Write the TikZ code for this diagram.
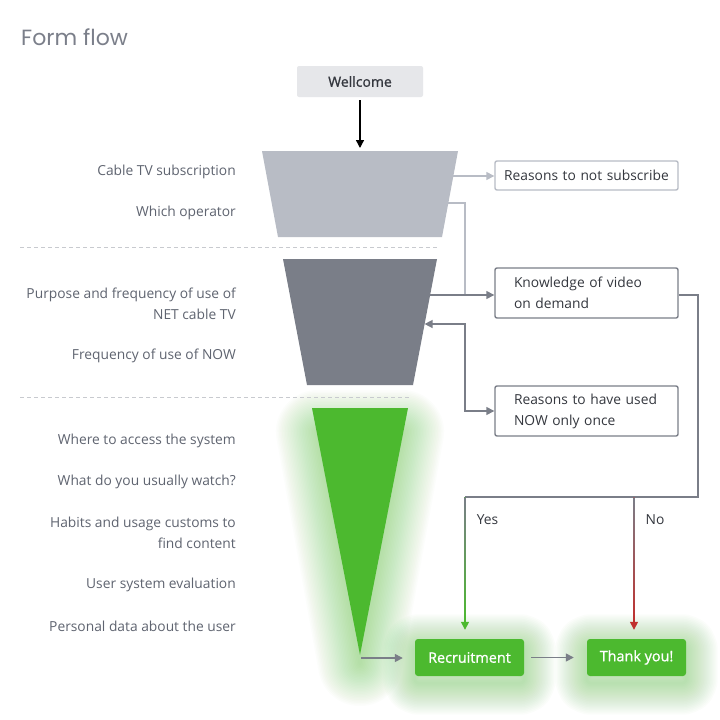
\documentclass[tikz,border=0pt]{standalone}
\usepackage{fontspec}
\setmainfont{Open Sans}
\newfontfamily\titlefont{Poppins}
\newfontface\semibold{Open Sans}[FakeBold=1]
\usetikzlibrary{arrows.meta, positioning, backgrounds, calc}
\definecolor{labelgray}{RGB}{95,100,112}
\definecolor{textdark}{RGB}{52,55,62}
\definecolor{titlegray}{RGB}{123,127,138}
\definecolor{lightfunnel}{RGB}{184,188,197}
\definecolor{darkfunnel}{RGB}{122,126,136}
\definecolor{funnelgreen}{RGB}{76,185,47}
\definecolor{welcomefill}{RGB}{230,231,234}
\definecolor{nored}{RGB}{192,48,46}
\definecolor{dashgray}{RGB}{200,202,207}

\begin{document}
\begin{tikzpicture}[
    x=1pt, y=-1pt,
    >={Triangle[length=8pt, width=8pt]},
    lbl/.style={anchor=east, inner sep=0pt, align=right, text=labelgray, font=\fontsize{13.8}{20.5}\selectfont},
    optbox/.style={draw=darkfunnel, line width=1.4pt, rounded corners=2pt, fill=white, minimum height=50pt, text width=145pt, inner xsep=19pt, inner ysep=0pt, align=left, text=textdark, font=\fontsize{13.8}{21}\selectfont},
    endbox/.style={fill=funnelgreen, rounded corners=3pt, minimum height=37pt, text=white, font=\fontsize{14.4}{16}\selectfont\semibold},
    arrow/.style={->, line width=1.4pt},
    link/.style={line width=1.4pt},
    guide/.style={dashgray, line width=0.8pt, dash pattern=on 4pt off 3pt},
    glow/.style={draw=funnelgreen, line join=round}
]
    \begin{scope}[on background layer]
        \fill[white] (0,0) rectangle (720,720);
    \end{scope}
    \useasboundingbox (0,0) rectangle (720,720);

    % Title and start
    \node[anchor=west, inner sep=0pt, text=titlegray, font=\fontsize{22}{24}\selectfont\titlefont] (title) at (21,37) {Form flow};
    \node[fill=welcomefill, rounded corners=2pt, minimum width=126pt, minimum height=31pt, text=textdark, font=\fontsize{14}{16}\selectfont\semibold] (wellcome) at (360,81.5) {Wellcome};

    % Glow of the last funnel
    \foreach \w in {3,6,...,84}
        \path[glow, opacity=0.017, line width=\w pt] (318,432) -- (402,432) -- (360,664) -- cycle;

    % Funnels
    \fill[lightfunnel] (262,151) -- (458,151) -- (442,237) -- (278,237) -- cycle;
    \fill[darkfunnel] (283,259) -- (437,259) -- (413,385) -- (307,385) -- cycle;
    \fill[funnelgreen] (312,408) -- (408,408) -- (360,655) -- cycle;

    % Section guides
    \draw[guide] (20,247) -- (438,247);
    \draw[guide] (20,397) -- (410,397);

    % Questions
    \node[lbl] (q1) at (236,172) {Cable TV subscription};
    \node[lbl] (q2) at (236,213) {Which operator};
    \node[lbl] (q3) at (236,304) {Purpose and frequency of use of\\NET cable TV};
    \node[lbl] (q4) at (236,356) {Frequency of use of NOW};
    \node[lbl] (q5) at (236,441) {Where to access the system};
    \node[lbl] (q6) at (236,482) {What do you usually watch?};
    \node[lbl] (q7) at (236,533) {Habits and usage customs to\\find content};
    \node[lbl] (q8) at (236,585) {User system evaluation};
    \node[lbl] (q9) at (236,626) {Personal data about the user};

    % Side questions
    \node[optbox, draw=lightfunnel, minimum height=29pt, text width=183pt, inner xsep=0pt, align=center] (notsub) at (586.5,175.5) {Reasons to not subscribe};
    \node[optbox] (know) at (586.5,293) {Knowledge of video\\on demand};
    \node[optbox] (once) at (586.5,411) {Reasons to have used\\NOW only once};

    % Ends
    \node[endbox, minimum width=109pt] (recruit) at (469.5,657.5) {Recruitment};
    \node[endbox, minimum width=99pt] (thanks) at (636.5,657.5) {Thank you!};
    \begin{scope}[on background layer]
        \foreach \w in {3,6,...,63} {
            \path[glow, opacity=0.02, line width=\w pt, rounded corners=4pt] ([yshift=-7pt]recruit.north west) rectangle ([yshift=-7pt]recruit.south east);
            \path[glow, opacity=0.02, line width=\w pt, rounded corners=4pt] ([yshift=-7pt]thanks.north west) rectangle ([yshift=-7pt]thanks.south east);
        }
    \end{scope}

    % Points on the funnels
    \coordinate (f1top) at (360,151);
    \coordinate (f1out) at (453.3,176);
    \coordinate (f1side) at (448.3,203);
    \coordinate (f2out) at (430,295);
    \coordinate (f2in) at (424.6,324);
    \coordinate (f3tip) at (361,658);
    \coordinate (j1) at (465,295);
    \coordinate (j2) at (465,324);
    \coordinate (split) at (698,497);
    \coordinate (yes) at (465,497);
    \coordinate (no) at (634,497);

    % Arrows
    \draw[arrow, shorten <=3pt, shorten >=3pt] (wellcome) -- (f1top);
    \draw[arrow, lightfunnel] (f1out) -- (f1out -| notsub.west);
    \draw[link, lightfunnel] (f1side) -| (j1);
    \draw[arrow, darkfunnel] (f2out) -- (f2out -| know.west);
    \draw[link, darkfunnel, <->] (f2in) -- (j2) |- (once.west);
    \draw[link, darkfunnel] (know.east |- f2out) -| (split) -- (yes);
    \draw[arrow, funnelgreen, shorten >=9pt] (yes) -- (yes |- recruit.north);
    \draw[arrow, nored, shorten >=9pt] (no) -- (no |- thanks.north);
    \shade[top color=darkfunnel, bottom color=funnelgreen] ($(yes)+(-0.7,0)$) rectangle ($(yes |- recruit.north)+(0.7,-17)$);
    \shade[top color=darkfunnel, bottom color=nored] ($(no)+(-0.7,0)$) rectangle ($(no |- thanks.north)+(0.7,-17)$);
    \draw[arrow, darkfunnel, shorten >=12pt] (f3tip) -- (f3tip -| recruit.west);
    \draw[arrow, darkfunnel, shorten <=7pt, shorten >=13pt] (recruit) -- (thanks);

    % Answers
    \node[text=textdark, font=\fontsize{13.8}{16}\selectfont] (yeslbl) at (487.5,520) {Yes};
    \node[text=textdark, font=\fontsize{13.8}{16}\selectfont] (nolbl) at (655,520) {No};
\end{tikzpicture}
\end{document}
